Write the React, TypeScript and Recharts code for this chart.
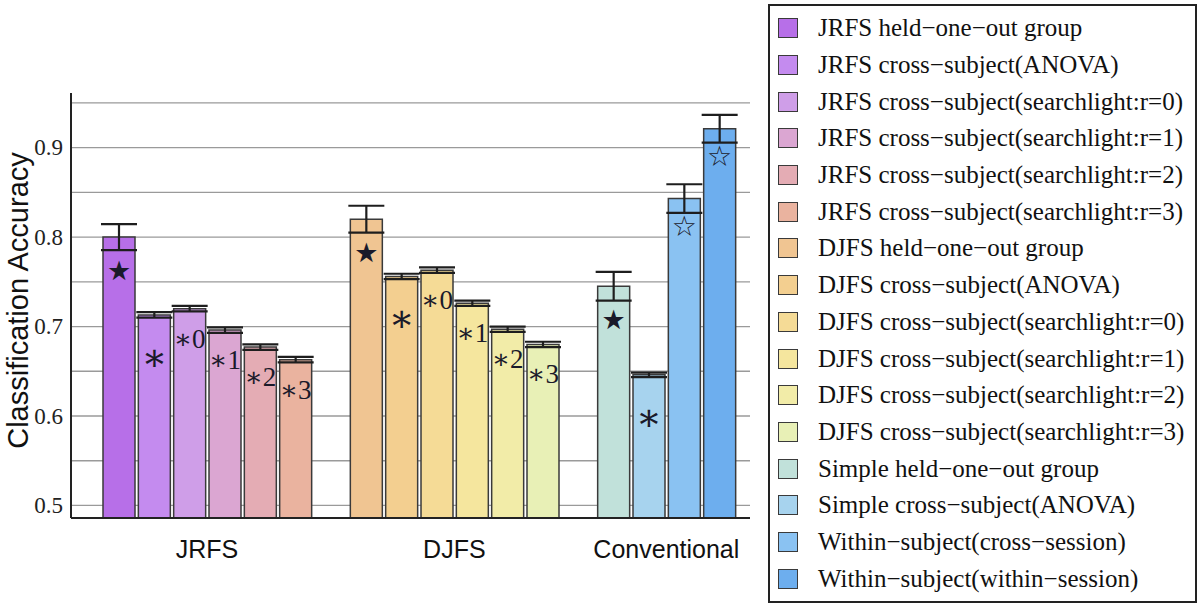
import {
  BarChart,
  Bar,
  XAxis,
  YAxis,
  CartesianGrid,
  ErrorBar,
  Cell,
  LabelList,
  Legend,
  Label,
} from "recharts";

const groups = ["JRFS", "DJFS", "Conventional"];

const seriesNames = [
  "JRFS held−one−out group",
  "JRFS cross−subject(ANOVA)",
  "JRFS cross−subject(searchlight:r=0)",
  "JRFS cross−subject(searchlight:r=1)",
  "JRFS cross−subject(searchlight:r=2)",
  "JRFS cross−subject(searchlight:r=3)",
  "DJFS held−one−out group",
  "DJFS cross−subject(ANOVA)",
  "DJFS cross−subject(searchlight:r=0)",
  "DJFS cross−subject(searchlight:r=1)",
  "DJFS cross−subject(searchlight:r=2)",
  "DJFS cross−subject(searchlight:r=3)",
  "Simple held−one−out group",
  "Simple cross−subject(ANOVA)",
  "Within−subject(cross−session)",
  "Within−subject(within−session)",
];

const seriesGroup = [0, 0, 0, 0, 0, 0, 1, 1, 1, 1, 1, 1, 2, 2, 2, 2];

const accuracy = [
  0.8, 0.713, 0.72, 0.696, 0.677, 0.663,
  0.82, 0.756, 0.763, 0.726, 0.697, 0.68,
  0.745, 0.646, 0.843, 0.921,
];

const errors = [
  0.0145, 0.003, 0.003, 0.003, 0.003, 0.003,
  0.015, 0.003, 0.003, 0.003, 0.003, 0.003,
  0.016, 0.0025, 0.016, 0.0155,
];

const markers = [
  "★", "∗", "∗0", "∗1", "∗2", "∗3",
  "★", "∗", "∗0", "∗1", "∗2", "∗3",
  "★", "∗", "☆", "☆",
];

const colors = [
  "#b76fe8", "#c48bef", "#cf9ee8", "#dba6d2", "#e4acb4", "#eab39f",
  "#f0c592", "#f3cf90", "#f5db96", "#f5e69e", "#f2eca8", "#e8f0b6",
  "#c1e1da", "#a7d3ee", "#8ac2f2", "#6daeee",
];

const yTicks = [0.5, 0.55, 0.6, 0.65, 0.7, 0.75, 0.8, 0.85, 0.9, 0.95];

type Row = {
  slot: string;
  value: number | null;
  err: number | null;
  marker: string | null;
  color: string;
};

// one row per bar, with an empty slot between groups
const rows: Row[] = [];
seriesNames.forEach((name, i) => {
  if (i > 0 && seriesGroup[i] !== seriesGroup[i - 1]) {
    rows.push({ slot: "gap" + i, value: null, err: null, marker: null, color: "none" });
  }
  rows.push({ slot: name, value: accuracy[i], err: errors[i], marker: markers[i], color: colors[i] });
});

// first slot of each group and how many bars it has
const groupFirst = groups.map((_, gi) => seriesNames[seriesGroup.indexOf(gi)]);
const groupCount = groups.map((_, gi) => seriesGroup.filter((g) => g === gi).length);

const serif = "'Liberation Serif', 'DejaVu Serif', serif";
const sans = "'Liberation Sans', Arial, sans-serif";

function Marker(props: any) {
  const { x, y, width, value } = props;
  if (!value) return null;
  let drop = 30;
  let size = 27;
  let family = serif;
  if (value === "★") {
    drop = 33;
    size = 27;
    family = "'DejaVu Sans', sans-serif";
  } else if (value === "☆") {
    drop = 28;
    size = 28;
    family = "'DejaVu Sans', sans-serif";
  } else if (value === "∗") {
    drop = 42;
    size = 38;
  }
  return (
    <text
      x={x + width / 2}
      y={y + drop}
      textAnchor="middle"
      dominantBaseline="central"
      fontSize={size}
      fontFamily={family}
      fill="#1a1a2a"
    >
      {value}
    </text>
  );
}

function GroupTick(props: any) {
  const { x, y, payload } = props;
  const gi = groupFirst.indexOf(payload.value);
  if (gi < 0) return null;
  const half = payload.offset || 17.65;
  return (
    <text
      x={x + (groupCount[gi] - 1) * half}
      y={y + 31}
      textAnchor="middle"
      dominantBaseline="central"
      fontFamily={sans}
      fontSize={25}
      fill="#111"
    >
      {groups[gi]}
    </text>
  );
}

function YTick(props: any) {
  const { x, y, payload } = props;
  const v = payload.value as number;
  if (Math.round(v * 100) % 10 !== 0) return null;
  return (
    <text
      x={x}
      y={y}
      textAnchor="end"
      dominantBaseline="central"
      fontFamily={serif}
      fontSize={23}
      fill="#222"
    >
      {v.toFixed(1)}
    </text>
  );
}

function LegendBox() {
  return (
    <div
      style={{
        boxSizing: "border-box",
        width: 429,
        height: 599,
        border: "2px solid #222",
        padding: "4px 0 0 8px",
        background: "#fff",
      }}
    >
      {seriesNames.map((name, i) => (
        <div key={name} style={{ display: "flex", alignItems: "center", height: 36.7 }}>
          <span
            style={{
              boxSizing: "border-box",
              width: 20,
              height: 20,
              background: colors[i],
              border: "1.5px solid #3a3a3a",
              marginRight: 20,
              flexShrink: 0,
            }}
          />
          <span style={{ fontFamily: serif, fontSize: 25, color: "#111", whiteSpace: "nowrap" }}>
            {name}
          </span>
        </div>
      ))}
    </div>
  );
}

export default function App() {
  return (
    <div style={{ position: "absolute", left: 0, top: 0, background: "#fff" }}>
      <BarChart
        width={1200}
        height={611}
        data={rows}
        margin={{ top: 93, right: 450, bottom: 43, left: 0 }}
      >
        <CartesianGrid
          horizontal
          vertical={false}
          horizontalValues={yTicks}
          stroke="#9a9a9a"
          strokeWidth={1.3}
        />
        <XAxis
          dataKey="slot"
          height={50}
          interval={0}
          tick={<GroupTick />}
          tickLine={false}
          tickSize={0}
          tickMargin={0}
          axisLine={{ stroke: "#222", strokeWidth: 2 }}
          padding={{ left: 30, right: 13 }}
        />
        <YAxis
          width={71}
          domain={[0.486, 0.961]}
          allowDataOverflow
          ticks={yTicks}
          interval={0}
          tick={<YTick />}
          tickLine={false}
          tickSize={0}
          tickMargin={8}
          axisLine={{ stroke: "#222", strokeWidth: 2 }}
        >
          <Label
            content={(p: any) => {
              const vb = p.viewBox || { x: 0, y: 93, width: 71, height: 425 };
              const cx = vb.x + 18;
              const cy = vb.y + vb.height / 2 - 5;
              return (
                <text
                  x={cx}
                  y={cy}
                  transform={`rotate(-90 ${cx} ${cy})`}
                  textAnchor="middle"
                  dominantBaseline="central"
                  fontFamily={sans}
                  fontSize={29}
                  fill="#111"
                >
                  Classification Accuracy
                </text>
              );
            }}
          />
        </YAxis>
        <Legend
          layout="horizontal"
          verticalAlign="middle"
          align="center"
          wrapperStyle={{ left: 768, top: 4, width: 429, height: 599 }}
          content={() => <LegendBox />}
        />
        <Bar
          dataKey="value"
          barSize={32}
          stroke="#3a3a3a"
          strokeWidth={1.5}
          isAnimationActive={false}
        >
          {rows.map((r) => (
            <Cell key={r.slot} fill={r.color} />
          ))}
          <ErrorBar dataKey="err" width={18} stroke="#1e1e1e" strokeWidth={2.2} direction="y" />
          <LabelList dataKey="marker" content={<Marker />} />
        </Bar>
      </BarChart>
    </div>
  );
}
